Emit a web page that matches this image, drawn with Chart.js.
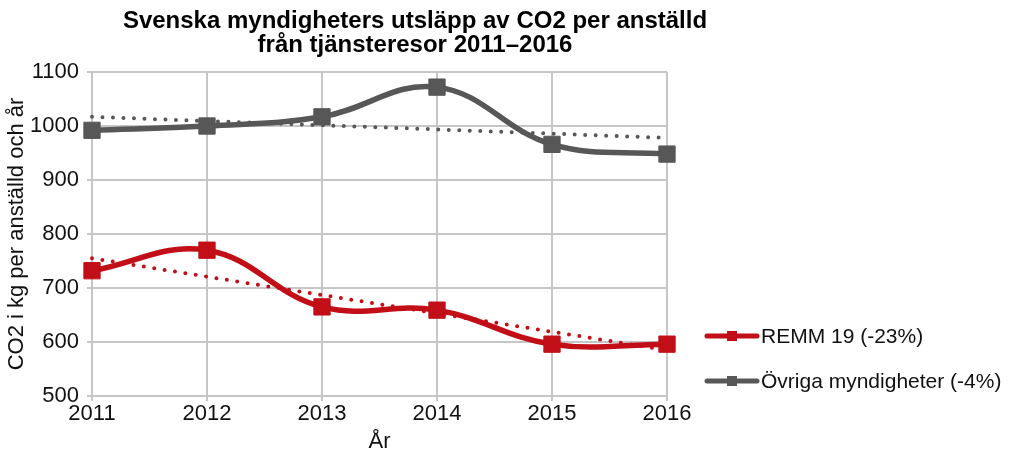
<!DOCTYPE html>
<html>
<head>
<meta charset="utf-8">
<script src="https://cdn.jsdelivr.net/npm/chart.js@4"></script>
<style>
    html, body { margin: 0; padding: 0; background: #fff; }
    #wrap { width: 1009px; height: 455px; }
</style>
</head>
<body>
<div id="wrap"><canvas id="chart" width="1009" height="455"></canvas></div>
<script>
// Data
const years = ['2011', '2012', '2013', '2014', '2015', '2016'];
const remm = [732, 770, 665, 659, 596, 596];
const ovriga = [992, 1000, 1017, 1072, 966, 948];
// trend lines: only the end points are drawn, straight between them
const remmTrend = [755, null, null, null, null, 585];
const ovrigaTrend = [1017, null, null, null, null, 978];
const yMin = 500;
const yMax = 1100;
const yStep = 100;

const titleLines = ['Svenska myndigheters utsläpp av CO2 per anställd', 'från tjänsteresor 2011–2016'];
const seriesNames = ['REMM 19 (-23%)', 'Övriga myndigheter (-4%)'];

const RED = '#c20e16';
const GREY = '#575757';
const GRID = '#c6c6c6';
const FONT = '"Liberation Sans", Arial, Helvetica, sans-serif';

// Title and legend drawn by hand so they sit where the reference has them
const decorPlugin = {
    id: 'decor',
    afterDraw(chart) {
        const ctx = chart.ctx;
        ctx.save();
        ctx.fillStyle = '#000';
        ctx.textAlign = 'center';
        ctx.textBaseline = 'middle';
        ctx.font = 'bold 24px ' + FONT;
        ctx.fillText(titleLines[0], 415, 21);
        ctx.fillText(titleLines[1], 415, 45);

        const items = [
            { label: seriesNames[0], color: RED, y: 336 },
            { label: seriesNames[1], color: GREY, y: 381 }
        ];
        items.forEach(item => {
            ctx.strokeStyle = item.color;
            ctx.lineWidth = 5;
            ctx.lineCap = 'round';
            ctx.beginPath();
            ctx.moveTo(707, item.y);
            ctx.lineTo(757, item.y);
            ctx.stroke();
            ctx.fillStyle = item.color;
            ctx.fillRect(727, item.y - 5, 10, 10);
            ctx.fillStyle = '#111';
            ctx.textAlign = 'left';
            ctx.font = '21px ' + FONT;
            ctx.fillText(item.label, 761, item.y + 1);
        });
        ctx.restore();
    }
};

const ctx = document.getElementById('chart');
new Chart(ctx, {
    type: 'line',
    data: {
        labels: years,
        datasets: [
            {
                label: seriesNames[0] + ' trend',
                data: remmTrend,
                borderColor: RED,
                borderWidth: 4,
                borderDash: [0, 10.5],
                borderCapStyle: 'round',
                pointRadius: 0,
                spanGaps: true,
                tension: 0,
                order: 0
            },
            {
                label: seriesNames[1] + ' trend',
                data: ovrigaTrend,
                borderColor: GREY,
                borderWidth: 4,
                borderDash: [0, 10.5],
                borderCapStyle: 'round',
                pointRadius: 0,
                spanGaps: true,
                tension: 0,
                order: 0
            },
            {
                label: seriesNames[0],
                data: remm,
                borderColor: RED,
                backgroundColor: RED,
                borderWidth: 5.5,
                pointStyle: 'rect',
                pointRadius: 11.5,
                pointBorderWidth: 1,
                pointBackgroundColor: RED,
                pointBorderColor: RED,
                tension: 0.4,
                order: 2
            },
            {
                label: seriesNames[1],
                data: ovriga,
                borderColor: GREY,
                backgroundColor: GREY,
                borderWidth: 5.5,
                pointStyle: 'rect',
                pointRadius: 11.5,
                pointBorderWidth: 1,
                pointBackgroundColor: GREY,
                pointBorderColor: GREY,
                tension: 0.4,
                order: 1
            }
        ]
    },
    options: {
        responsive: false,
        animation: false,
        devicePixelRatio: 1,
        events: [],
        layout: {
            padding: { top: 72, right: 342, left: 0, bottom: 0 }
        },
        plugins: {
            legend: { display: false },
            title: { display: false },
            tooltip: { enabled: false }
        },
        scales: {
            x: {
                type: 'category',
                offset: false,
                afterFit(scale) { scale.height = 59; },
                grid: { color: GRID, lineWidth: 2, tickLength: 5, drawTicks: true },
                border: { color: GRID, width: 2 },
                ticks: {
                    color: '#111',
                    font: { family: FONT, size: 22 },
                    padding: 0,
                    maxRotation: 0
                },
                title: {
                    display: true,
                    text: 'År',
                    color: '#111',
                    font: { family: FONT, size: 22 },
                    padding: { top: 0, bottom: 0 }
                }
            },
            y: {
                min: yMin,
                max: yMax,
                afterFit(scale) { scale.width = 92; },
                grid: { color: GRID, lineWidth: 2, tickLength: 5 },
                border: { color: GRID, width: 2 },
                ticks: {
                    stepSize: yStep,
                    color: '#111',
                    font: { family: FONT, size: 22 },
                    padding: 8,
                    callback: value => String(value)
                },
                title: {
                    display: true,
                    text: 'CO2 i kg per anställd och år',
                    color: '#111',
                    font: { family: FONT, size: 22 },
                    padding: { top: 4, bottom: 4 }
                }
            }
        }
    },
    plugins: [decorPlugin]
});
</script>
</body>
</html>
